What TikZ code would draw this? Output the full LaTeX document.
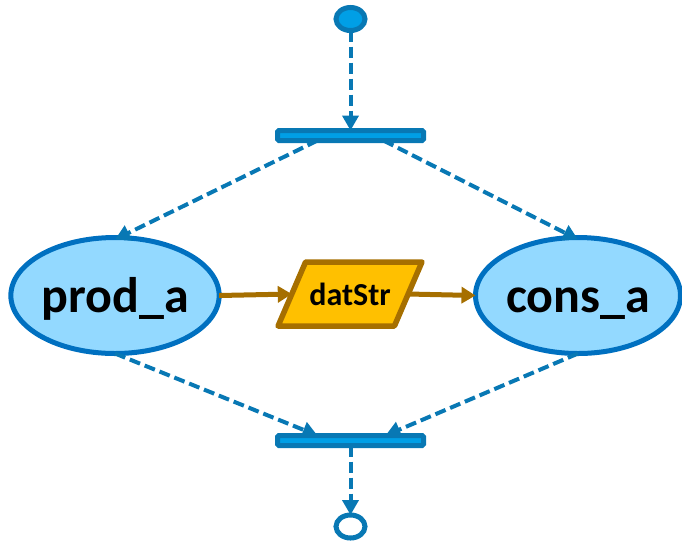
\documentclass[tikz,border=0pt]{standalone}
\usepackage{fontspec}
\setmainfont{Carlito}
\usetikzlibrary{arrows.meta,shapes.geometric}
\definecolor{bl}{HTML}{0878B4}
\definecolor{dk}{HTML}{0070C0}
\definecolor{br}{HTML}{A66F00}
\definecolor{lightbl}{RGB}{147,217,255}
\definecolor{bright}{HTML}{009FE6}
\definecolor{gold}{RGB}{255,192,0}
\tikzset{x=1pt,y=-1pt,
 stateov/.style={ellipse,draw=dk,line width=5pt,fill=lightbl,minimum width=205pt,minimum height=116pt,inner sep=0pt,outer sep=0pt,font=\bfseries\fontsize{50}{50}\selectfont,text height=40pt,text depth=6pt},
 barbox/.style={rectangle,rounded corners=1.5pt,draw=bl,line width=5pt,fill=bright,minimum width=146pt,minimum height=10pt,inner sep=0pt,outer sep=0pt},
 dashconn/.style={draw=bl,line width=4pt,dash pattern=on 11pt off 5pt,-{Triangle[length=15pt,width=16pt]}},
 flowconn/.style={draw=br,line width=5pt,-{Triangle[length=14pt,width=16pt]}},
 dat/.style={trapezium,trapezium stretches=true,trapezium left angle=42,trapezium right angle=138,draw=br,line width=5.5pt,line join=round,fill=gold,minimum width=144pt,minimum height=64pt,inner sep=0pt,outer sep=0pt,font=\bfseries\fontsize{32}{32}\selectfont},
 startov/.style={ellipse,draw=bl,line width=5pt,fill=bright,minimum width=29pt,minimum height=23pt,inner sep=0pt,outer sep=0pt},
 endov/.style={ellipse,draw=bl,line width=5pt,fill=white,minimum width=29pt,minimum height=23pt,inner sep=0pt,outer sep=0pt}}
\begin{document}
\begin{tikzpicture}
\useasboundingbox (0,0) rectangle (682,542);
\node[startov] (s) at (350.5,19) {};
\node[barbox] (b1) at (350.5,135.5) {};
\node[stateov] (p) at (115,295.5) {prod\_a};
\node[stateov] (c) at (578,295.5) {cons\_a};
\node[dat] (d) at (350,294) {datStr};
\node[barbox] (b2) at (350.5,440.5) {};
\node[endov] (e) at (350.5,526.5) {};
\coordinate (t1) at ([xshift=-33pt]b1.south);
\coordinate (t2) at ([xshift=33pt]b1.south);
\coordinate (t3) at ([xshift=-33pt]b2.north);
\coordinate (t4) at ([xshift=35pt]b2.north);
\draw[dashconn] (s) -- (b1.north);
\draw[dashconn] (t1) -- ([yshift=-2pt]p.north);
\draw[dashconn] (t2) -- ([yshift=-2pt]c.north);
\draw[flowconn] (p.east) -- (d.west);
\draw[flowconn] (d.east) -- (c.west);
\draw[dashconn] (p.south) -- (t3);
\draw[dashconn] (c.south) -- (t4);
\draw[dashconn] (b2) -- (e);
\end{tikzpicture}
\end{document}
